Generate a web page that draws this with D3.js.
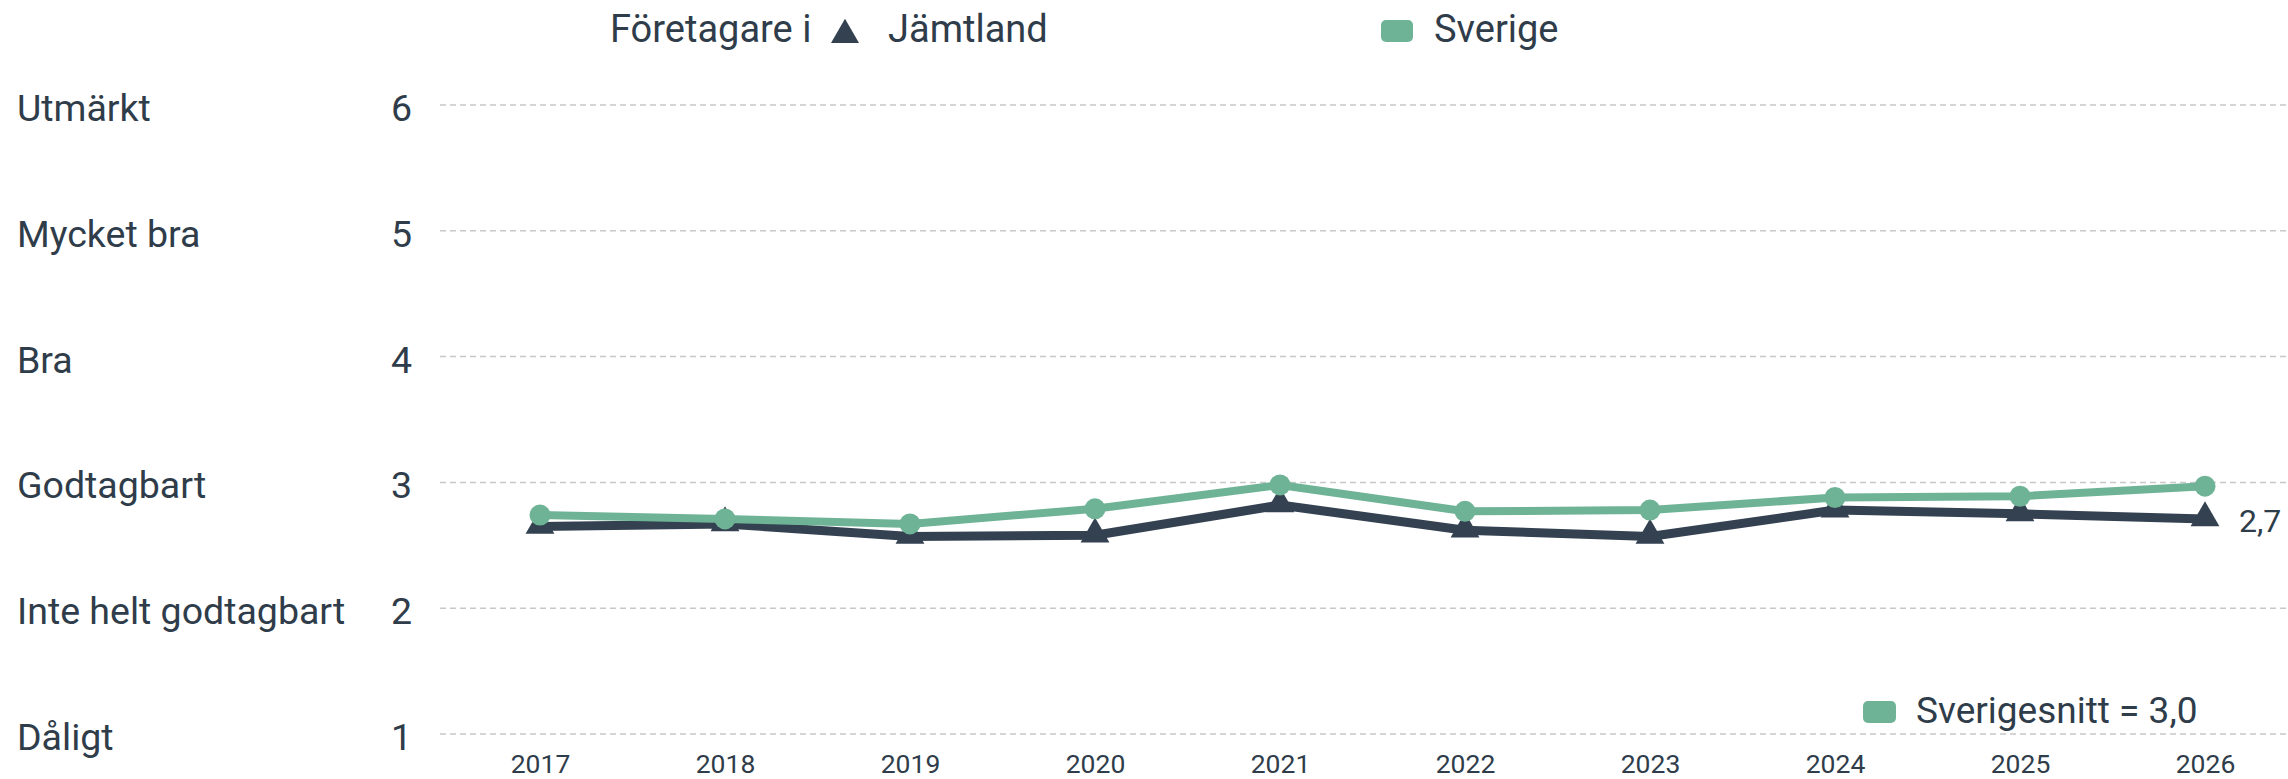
<!DOCTYPE html>
<html>
<head>
<meta charset="utf-8">
<script src="https://cdn.jsdelivr.net/npm/d3@7"></script>
<style>
  body { margin: 0; background: #fff; }
  svg text { font-family: Roboto, "Noto Sans", sans-serif; fill: #2f3c4a; }
</style>
</head>
<body>
<svg id="chart" width="2288" height="779"></svg>
<script>
// data
const years = [2017, 2018, 2019, 2020, 2021, 2022, 2023, 2024, 2025, 2026];
const sverige = [2.74, 2.71, 2.67, 2.79, 2.98, 2.77, 2.78, 2.88, 2.89, 2.97];
const jamtland = [2.65, 2.67, 2.57, 2.58, 2.82, 2.62, 2.57, 2.78, 2.75, 2.71];
const gradeTicks = [1, 2, 3, 4, 5, 6];
const gradeLabels = ["Dåligt", "Inte helt godtagbart", "Godtagbart", "Bra", "Mycket bra", "Utmärkt"];
const lastLabel = "2,7";
const avgLabel = "Sverigesnitt = 3,0";

const green = "#6fb396";
const dark = "#334150";

const svg = d3.select("#chart");

const x = d3.scaleLinear().domain([2017, 2026]).range([540, 2205]);
const y = d3.scaleLinear().domain([1, 6]).range([734, 105]);

// grid lines
svg.append("g")
    .selectAll("line")
    .data(gradeTicks)
    .join("line")
    .attr("x1", 440)
    .attr("x2", 2288)
    .attr("y1", d => y(d))
    .attr("y2", d => y(d))
    .attr("stroke", "#c8c8c8")
    .attr("stroke-width", 1.5)
    .attr("stroke-dasharray", "6 4");

// y labels: grade names and numbers
const yl = svg.append("g");
yl.selectAll("text.name")
    .data(gradeTicks)
    .join("text")
    .attr("class", "name")
    .attr("x", 17)
    .attr("y", d => y(d) + 16)
    .style("font-size", "37.5px")
    .text((d, i) => gradeLabels[i]);
yl.selectAll("text.num")
    .data(gradeTicks)
    .join("text")
    .attr("class", "num")
    .attr("x", 412)
    .attr("y", d => y(d) + 16)
    .attr("text-anchor", "end")
    .style("font-size", "37.5px")
    .text(d => d);

// x axis
const xAxis = svg.append("g")
    .attr("transform", "translate(0,753)")
    .call(d3.axisBottom(x).tickValues(years).tickFormat(d3.format("d")).tickSize(0).tickPadding(0));
xAxis.select(".domain").remove();
xAxis.selectAll("text")
    .attr("dy", "0.75em")
    .style("font-size", "26.5px")
    .style("font-family", "Roboto, sans-serif")
    .attr("fill", "#2f3c4a");

// lines
const line = d3.line()
    .x((d, i) => x(years[i]))
    .y(d => y(d));

svg.append("path")
    .datum(jamtland)
    .attr("d", line)
    .attr("fill", "none")
    .attr("stroke", dark)
    .attr("stroke-width", 9)
    .attr("stroke-linejoin", "round");

svg.append("g")
    .selectAll("path")
    .data(jamtland)
    .join("path")
    .attr("transform", (d, i) => `translate(${x(years[i])},${y(d) - 1})`)
    .attr("d", d3.symbol(d3.symbolTriangle, 360))
    .attr("fill", dark);

svg.append("path")
    .datum(sverige)
    .attr("d", line)
    .attr("fill", "none")
    .attr("stroke", green)
    .attr("stroke-width", 8)
    .attr("stroke-linejoin", "round");

svg.append("g")
    .selectAll("circle")
    .data(sverige)
    .join("circle")
    .attr("cx", (d, i) => x(years[i]))
    .attr("cy", d => y(d))
    .attr("r", 10.5)
    .attr("fill", green);

// end label
svg.append("text")
    .attr("x", x(2026) + 34)
    .attr("y", y(jamtland[jamtland.length - 1]) + 13)
    .style("font-size", "32px")
    .text(lastLabel);

// top legend
const lg = svg.append("g");
lg.append("text").attr("x", 610).attr("y", 42).style("font-size", "38px").text("Företagare i");
lg.append("path")
    .attr("transform", "translate(845,35)")
    .attr("d", d3.symbol(d3.symbolTriangle, 340))
    .attr("fill", dark);
lg.append("text").attr("x", 888).attr("y", 42).style("font-size", "38px").text("Jämtland");
lg.append("rect").attr("x", 1381).attr("y", 20).attr("width", 32).attr("height", 22).attr("rx", 5).attr("fill", green);
lg.append("text").attr("x", 1434).attr("y", 42).style("font-size", "38px").text("Sverige");

// average legend
lg.append("rect").attr("x", 1863).attr("y", 701).attr("width", 33).attr("height", 22).attr("rx", 5).attr("fill", green);
lg.append("text").attr("x", 1916).attr("y", 723).style("font-size", "37px").text(avgLabel);
</script>
</body>
</html>
